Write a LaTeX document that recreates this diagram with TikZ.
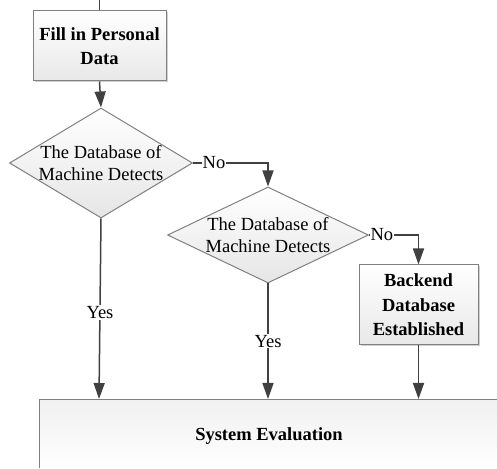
\documentclass[tikz,border=0pt]{standalone}
\usepackage{fontspec}
\setmainfont{Liberation Serif}
\usetikzlibrary{shapes.geometric,arrows.meta,shadows}
\definecolor{edgegray}{HTML}{808080}
\definecolor{linegray}{HTML}{404040}
\definecolor{panelgray}{HTML}{F0F0F0}
\begin{document}
\begin{tikzpicture}[x=1pt,y=1pt,
  procbox/.style={draw=edgegray, line width=1pt, rectangle, top color=white, bottom color=gray!18,
    align=center, inner sep=0pt,
    font=\fontsize{18.5}{24.5}\selectfont\bfseries,
    drop shadow={shadow xshift=1.5pt, shadow yshift=-1.5pt, fill=gray!45, opacity=0.8}},
  decision/.style={draw=edgegray, line width=1pt, diamond, top color=white, bottom color=gray!20,
    inner sep=0pt},
  dectext/.style={align=center, font=\fontsize{18.5}{21.5}\selectfont},
  flow/.style={draw=linegray, line width=1.5pt, -{Triangle[length=16pt,width=11pt]}},
  plain/.style={draw=linegray, line width=1.5pt},
  tag/.style={fill=white, inner sep=1pt, font=\fontsize{18.5}{21}\selectfont}
]
\useasboundingbox (0,0) rectangle (497,468);
\clip (0,0) rectangle (497,468);
\fill[white] (0,0) rectangle (497,468);

% process boxes
\node[procbox, minimum width=133pt, minimum height=70pt] (fill) at (99.5,422) {Fill in Personal\\Data};
\node[procbox, minimum width=119pt, minimum height=80pt] (back) at (418.5,163) {Backend\\Database\\Established};

% final box, running off the lower right: shaded body, then its visible edges
\shade[top color=panelgray, bottom color=white] (39,0) rectangle (497,69);
\draw[edgegray, line width=1pt] (497,69) -- (39,69) -- (39,0);
\node[font=\fontsize{18.5}{21}\selectfont\bfseries] (sys) at (269,32) {System Evaluation};
\coordinate (systop1) at (99,69);
\coordinate (systop2) at (268,69);
\coordinate (systop3) at (418.5,69);

% decisions
\node[decision, minimum width=183pt, minimum height=110pt,
  label={[dectext]center:The Database of\\Machine Detects}] (d1) at (101,305) {};
\node[decision, minimum width=201pt, minimum height=96pt,
  label={[dectext]center:The Database of\\Machine Detects}] (d2) at (268,233) {};

% incoming line at the top
\coordinate (entry) at (99.5,470);
\draw[plain] (entry) -- (fill.north);

% connectors
\draw[flow] (fill.south) -- (d1.north);
\draw[flow] (d1.east) -| node[tag, pos=0.14] {No} (d2.north);
\draw[flow] (d2.east) -| node[tag, pos=0.13] {No} (back.north);
\draw[flow] (d1.south) -- node[tag, pos=0.52] {Yes} (systop1);
\draw[flow] (d2.south) -- node[tag, pos=0.5] {Yes} (systop2);
\draw[flow] (back.south) -- (systop3);
\end{tikzpicture}
\end{document}
